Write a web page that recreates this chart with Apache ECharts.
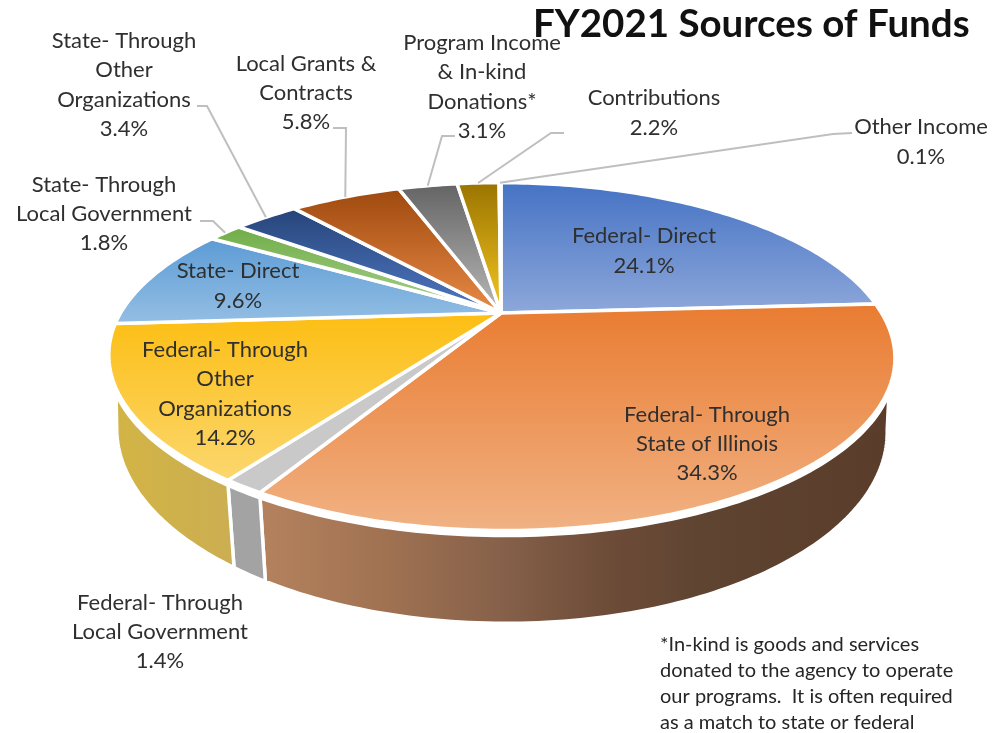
<!DOCTYPE html>
<html>
<head>
<meta charset="utf-8">
<title>FY2021 Sources of Funds</title>
<style>
    html, body { margin: 0; padding: 0; background: #fff; }
    #main { width: 1006px; height: 733px; }
</style>
<script src="https://cdn.jsdelivr.net/npm/echarts@6/dist/echarts.min.js"></script>
</head>
<body>
<div id="main"></div>
<script>
// 数据
const names = [
    'Federal- Direct',
    'Federal- Through\nState of Illinois',
    'Federal- Through\nLocal Government',
    'Federal- Through\nOther\nOrganizations',
    'State- Direct',
    'State- Through\nLocal Government',
    'State- Through\nOther\nOrganizations',
    'Local Grants &\nContracts',
    'Program Income\n& In-kind\nDonations*',
    'Contributions',
    'Other Income'
];
const values = [24.1, 34.3, 1.4, 14.2, 9.6, 1.8, 3.4, 5.8, 3.1, 2.2, 0.1];
const titleText = 'FY2021 Sources of Funds';
const noteText = '*In-kind is goods and services\ndonated to the agency to operate\nour programs.  It is often required\nas a match to state or federal';

// 样式
const topColors = [
    ['#4472c4', '#8ea8da'], ['#e97b30', '#f1b284'], ['#c9c9c9', '#c9c9c9'], ['#fdbe12', '#fbd76f'],
    ['#5b9bd5', '#95bfe4'], ['#6fac46', '#abd290'], ['#264478', '#5079c6'], ['#9e480e', '#e98b46'],
    ['#636363', '#b9b9b9'], ['#997300', '#f6c821'], ['#255e91', '#255e91']
];
const sideStops = {
    1: [[0, '#b5825e'], [0.2, '#a07252'], [0.38, '#87614a'], [0.55, '#6d4c38'], [0.7, '#5f4432'], [1, '#5a3c2a']],
    2: [[0, '#a3a3a3'], [1, '#a3a3a3']],
    3: [[0, '#d2b445'], [1, '#cbae52']]
};
// 标签位置：文字中心 [x, y]，以及引线的折点（没有引线的为空）
const labelPos = [
    [644, 251], [707, 444], [160, 632], [225, 394], [238, 286], [104, 214],
    [124, 85], [306, 93], [482, 87], [654, 113], [921, 142]
];
const leaderFrom = [
    null, null, null, null, null,
    [[200, 221], [213, 221]],
    [[197, 106], [207, 106]],
    [[333, 128], [346, 128]],
    [[455, 136], [442, 136]],
    [[564, 133], [551, 133]],
    [[852, 133], [833, 134]]
];

// 饼的透视投影，sh 让靠前的部分略向右偏
const cx = 501;
const topFace = { cy: 313, a: 380.5, b: 163, k: 0.2507, sh: 0.02 };
const rimFace = { cy: 318, a: 380.5, b: 163, k: 0.2507, sh: 0.02 };
const baseFace = { cy: 382, a: 373, b: 181, k: 0.25, sh: 0.02 };
const rimLimit = [0.318, 0.682];
const baseLimit = [0.29, 0.71];
const total = values.reduce(function (s, v) { return s + v; }, 0);

function project(frac, face) {
    let ang = frac * 2 * Math.PI;
    let u = Math.sin(ang);
    let v = -Math.cos(ang);
    let d = 1 - face.k * v;
    let dy = face.b * v / d;
    return [cx + face.a * u / d + face.sh * Math.max(dy, 0), face.cy + dy];
}

function arc(from, to, face) {
    let pts = [];
    let n = Math.max(2, Math.ceil(Math.abs(to - from) * 360));
    for (let i = 0; i <= n; i++) {
        pts.push(project(from + (to - from) * i / n, face));
    }
    return pts;
}

function startOf(i) {
    let s = 0;
    for (let j = 0; j < i; j++) s += values[j];
    return s / total;
}

function renderSide(params) {
    let i = params.dataIndex;
    if (!sideStops[i]) return null;
    let s = startOf(i);
    let e = s + values[i] / total;
    let upper = arc(Math.max(s, rimLimit[0]), Math.min(e, rimLimit[1]), rimFace);
    let lower = arc(Math.min(e, baseLimit[1]), Math.max(s, baseLimit[0]), baseFace);
    return {
        type: 'polygon',
        shape: { points: upper.concat(lower) },
        style: {
            fill: {
                type: 'linear', x: 0, y: 0, x2: 1, y2: 0,
                colorStops: sideStops[i].map(function (p) { return { offset: p[0], color: p[1] }; })
            },
            stroke: '#fff',
            lineWidth: 3.5
        }
    };
}

function renderTop(params) {
    let i = params.dataIndex;
    let s = startOf(i);
    let e = s + values[i] / total;
    return {
        type: 'polygon',
        shape: { points: [[cx, topFace.cy]].concat(arc(s, e, topFace)) },
        style: {
            fill: {
                type: 'linear', x: 0, y: 0, x2: 0, y2: 1,
                colorStops: [
                    { offset: 0, color: topColors[i][0] },
                    { offset: 1, color: topColors[i][1] }
                ]
            },
            stroke: '#fff',
            lineWidth: 3.5,
            lineJoin: 'round'
        }
    };
}

function renderLeader(params) {
    let i = params.dataIndex;
    if (!leaderFrom[i]) return null;
    let mid = startOf(i) + values[i] / total / 2;
    return {
        type: 'polyline',
        shape: { points: leaderFrom[i].concat([project(mid, topFace)]) },
        style: { fill: null, stroke: '#bfbfbf', lineWidth: 2 }
    };
}

let labelFont = 'Lato, sans-serif';
let graphics = names.map(function (name, i) {
    return {
        type: 'text',
        x: labelPos[i][0],
        y: labelPos[i][1],
        z: 20,
        style: {
            text: name + '\n' + values[i].toFixed(1) + '%',
            font: '22px ' + labelFont,
            lineHeight: 29.4,
            fill: '#2f2f2f',
            align: 'center',
            verticalAlign: 'middle'
        }
    };
});
graphics.push({
    type: 'text', left: 533, top: 5, z: 30,
    style: { text: titleText, font: 'bold 38.5px ' + labelFont, fill: '#111' }
});
graphics.push({
    type: 'text', left: 660, top: 631, z: 20,
    style: { text: noteText, font: '20px ' + labelFont, lineHeight: 26.2, fill: '#262626' }
});

let chart = echarts.init(document.getElementById('main'));
chart.setOption({
    animation: false,
    backgroundColor: '#fff',
    graphic: graphics,
    series: [
        { type: 'custom', coordinateSystem: 'none', data: values, renderItem: renderSide, z: 1 },
        { type: 'custom', coordinateSystem: 'none', data: values, renderItem: renderTop, z: 2 },
        { type: 'custom', coordinateSystem: 'none', data: values, renderItem: renderLeader, z: 3 }
    ]
});
</script>
</body>
</html>
